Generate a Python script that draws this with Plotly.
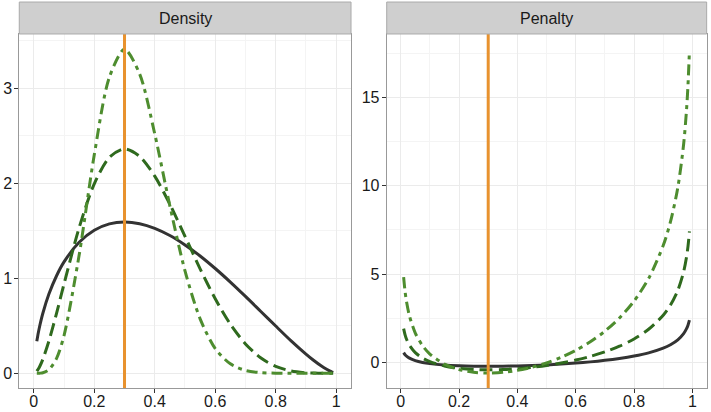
import plotly.graph_objects as go

# x grid of the curves
x_vals = [0.01, 0.015, 0.02, 0.03, 0.05, 0.075, 0.10, 0.15, 0.20, 0.25, 0.30, 0.35, 0.40, 0.45, 0.50,
          0.55, 0.60, 0.65, 0.70, 0.75, 0.80, 0.85, 0.90, 0.925, 0.95, 0.97, 0.98, 0.985, 0.99]

# Density panel
density_solid = [0.336, 0.426, 0.503, 0.632, 0.834, 1.024, 1.172, 1.379, 1.506, 1.573, 1.593, 1.575, 1.526, 1.450, 1.351,
                 1.235, 1.103, 0.960, 0.809, 0.653, 0.497, 0.344, 0.202, 0.137, 0.079, 0.039, 0.022, 0.015, 0.009]
density_dashed = [0.022, 0.045, 0.074, 0.147, 0.339, 0.628, 0.940, 1.533, 1.995, 2.273, 2.362, 2.284, 2.075, 1.780, 1.442,
                  1.100, 0.784, 0.517, 0.309, 0.163, 0.072, 0.024, 0.005, 0.002, 0.000, 0.000, 0.000, 0.000, 0.000]
density_dotdash = [0.000, 0.000, 0.001, 0.005, 0.037, 0.155, 0.397, 1.244, 2.300, 3.118, 3.411, 3.152, 2.520, 1.763, 1.078,
                   0.573, 0.260, 0.099, 0.030, 0.007, 0.001, 0.000, 0.000, 0.000, 0.000, 0.000, 0.000, 0.000, 0.000]

# Penalty panel
penalty_solid = [0.545, 0.427, 0.344, 0.230, 0.091, -0.012, -0.079, -0.161, -0.205, -0.226, -0.233, -0.227, -0.211, -0.186,
                 -0.151, -0.105, -0.049, 0.020, 0.106, 0.213, 0.350, 0.533, 0.800, 0.993, 1.269, 1.620, 1.901, 2.101, 2.383]
penalty_dashed = [1.903, 1.549, 1.301, 0.958, 0.541, 0.233, 0.031, -0.214, -0.345, -0.411, -0.430, -0.413, -0.365, -0.288,
                  -0.183, -0.048, 0.122, 0.330, 0.587, 0.908, 1.318, 1.868, 2.668, 3.247, 4.075, 5.129, 5.971, 6.571, 7.418]
penalty_dotdash = [4.831, 4.004, 3.425, 2.624, 1.653, 0.932, 0.462, -0.109, -0.417, -0.569, -0.614, -0.574, -0.462, -0.284,
                   -0.038, 0.279, 0.673, 1.159, 1.759, 2.508, 3.466, 4.748, 6.615, 7.967, 9.897, 12.357, 14.322, 15.721, 17.697]

mode_x = 0.3
panel_titles = ["Density", "Penalty"]
x_ticks = [0, 0.2, 0.4, 0.6, 0.8, 1]
x_ticktext = ["0", "0.2", "0.4", "0.6", "0.8", "1"]
y1_ticks = [0, 1, 2, 3]
y2_ticks = [0, 5, 10, 15]

C_SOLID = "#333333"
C_DASH = "#2F6A1E"
C_DOTDASH = "#4E8D2F"
C_ORANGE = "#E8922E"
FONT = "Liberation Sans, Arial, sans-serif"

fig = go.Figure()

styles = [
    (C_SOLID, "solid"),
    (C_DASH, "13px,6px"),
    (C_DOTDASH, "11px,5px,4px,5px"),
]

for (ax, ay), series in [(("x", "y"), [density_solid, density_dashed, density_dotdash]),
                         (("x2", "y2"), [penalty_solid, penalty_dashed, penalty_dotdash])]:
    for (col, dash), ys in zip(styles, series):
        fig.add_trace(go.Scatter(x=x_vals, y=ys, mode="lines", xaxis=ax, yaxis=ay,
                                 line=dict(color=col, width=3, dash=dash, shape="spline", smoothing=0.8),
                                 showlegend=False, hoverinfo="skip"))

ydom = [0.0583, 0.9175]
xdom1 = [0.0271, 0.4937]
xdom2 = [0.5439, 0.9939]
axis_common = dict(showline=True, mirror=True, linecolor="#999999", linewidth=1,
                   ticks="outside", ticklen=4, tickcolor="#333333", tickwidth=1,
                   showgrid=True, gridcolor="#EBEBEB", gridwidth=1, zeroline=False)
xfont = dict(family=FONT, size=16, color="#1A1A1A")
yfont = dict(family=FONT, size=16, color="#1A1A1A")
minor_x = dict(dtick=0.1, tick0=0.1, showgrid=True, gridcolor="#F4F4F4", gridwidth=0.6, ticks="")

fig.update_layout(
    width=711, height=412,
    margin=dict(l=0, r=0, t=0, b=0),
    paper_bgcolor="white", plot_bgcolor="white",
    xaxis=dict(domain=xdom1, range=[-0.048, 1.049], anchor="y", automargin=False, tickfont=xfont,
               tickvals=x_ticks, ticktext=x_ticktext, ticklabelstandoff=-5, minor=minor_x, **axis_common),
    yaxis=dict(domain=ydom, range=[-0.155, 3.572], anchor="x", automargin=False, tickvals=y1_ticks,
               tickfont=yfont, ticklabelstandoff=-1,
               minor=dict(dtick=0.5, tick0=0.5, showgrid=True, gridcolor="#F4F4F4", gridwidth=0.6, ticks=""),
               **axis_common),
    xaxis2=dict(domain=xdom2, range=[-0.048, 1.049], anchor="y2", automargin=False, tickfont=xfont,
                tickvals=x_ticks, ticktext=x_ticktext, ticklabelstandoff=-5, minor=minor_x, **axis_common),
    yaxis2=dict(domain=ydom, range=[-1.46, 18.61], anchor="x2", automargin=False, tickvals=y2_ticks,
                tickfont=yfont, ticklabelstandoff=-1,
                minor=dict(dtick=2.5, tick0=2.5, showgrid=True, gridcolor="#F4F4F4", gridwidth=0.6, ticks=""),
                **axis_common),
)

# vertical mode line in each panel
for xr, yr in [("x", "y domain"), ("x2", "y2 domain")]:
    fig.add_shape(type="line", xref=xr, yref=yr, x0=mode_x, x1=mode_x, y0=0, y1=1,
                  line=dict(color=C_ORANGE, width=3), layer="above")

# facet strips
for dom, title in zip([xdom1, xdom2], panel_titles):
    fig.add_shape(type="rect", xref="paper", yref="paper", x0=dom[0], x1=dom[1],
                  y0=ydom[1], y1=0.9951, fillcolor="#CFCFCF", line=dict(color="#AAAAAA", width=1),
                  layer="above")
    fig.add_annotation(xref="paper", yref="paper", x=(dom[0] + dom[1]) / 2, y=(ydom[1] + 0.9951) / 2,
                       text=title, showarrow=False, xanchor="center", yanchor="middle",
                       font=dict(family=FONT, size=16, color="#1A1A1A"))

fig.write_html("out.html", config={"displayModeBar": False},
               post_script="document.body.style.margin='0';document.body.style.overflow='hidden';")
